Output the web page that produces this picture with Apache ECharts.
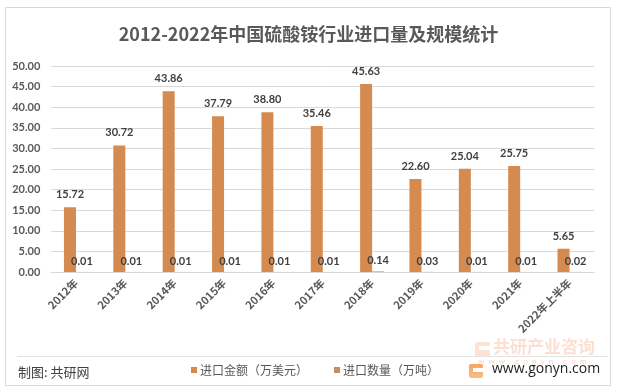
<!DOCTYPE html>
<html><head><meta charset="utf-8">
<script src="https://cdn.jsdelivr.net/npm/echarts@6/dist/echarts.min.js"></script>
<style>html,body{margin:0;padding:0;background:#fff}#c{width:617px;height:391px}</style>
</head><body><div id="c"></div>
<script>
var categories = ['2012年','2013年','2014年','2015年','2016年','2017年','2018年','2019年','2020年','2021年','2022年上半年'];
var amountValues = [15.72, 30.72, 43.86, 37.79, 38.80, 35.46, 45.63, 22.60, 25.04, 25.75, 5.65];
var volumeValues = [0.01, 0.01, 0.01, 0.01, 0.01, 0.01, 0.14, 0.03, 0.01, 0.01, 0.02];
var seriesNames = ['进口金额（万美元）', '进口数量（万吨）'];
var titleText = '2012-2022年中国硫酸铵行业进口量及规模统计';

var numFont = 'Lato, "Noto Sans CJK SC", sans-serif';
var cjkFont = '"Noto Sans CJK SC", sans-serif';
var chart = echarts.init(document.getElementById('c'), null, {renderer: 'canvas'});
var fmt = function (p) { return p.value.toFixed(2); };
chart.setOption({
  animation: false,
  backgroundColor: '#fff',
  title: {
    text: titleText, left: 'center', top: 20,
    textStyle: {fontFamily: cjkFont, fontSize: 18, fontWeight: 'bold', color: '#595959'}
  },
  legend: {
    left: 186, top: 359, itemWidth: 6, itemHeight: 6, itemGap: 26, icon: 'rect',
    textStyle: {fontFamily: cjkFont, fontSize: 12, color: '#595959', padding: [0,0,0,-2]},
    data: seriesNames
  },
  grid: {left: 51.3, right: 22.8, top: 66, bottom: 119},
  xAxis: {
    type: 'category', data: categories,
    axisLine: {lineStyle: {color: '#d9d9d9'}},
    axisTick: {show: false},
    axisLabel: {rotate: 45, interval: 0, margin: 9, fontFamily: cjkFont, fontSize: 11, fontWeight: 'bold', color: '#595959'}
  },
  yAxis: {
    type: 'value', min: 0, max: 50, interval: 5,
    axisLine: {show: false}, axisTick: {show: false},
    splitLine: {lineStyle: {color: '#d9d9d9'}},
    axisLabel: {margin: 11, fontFamily: numFont, fontSize: 11, fontWeight: 'bold', color: '#595959', formatter: function (v) { return v.toFixed(2); }}
  },
  series: [
    {
      name: seriesNames[0], type: 'bar', data: amountValues, barWidth: 12, barGap: '0%',
      itemStyle: {color: '#D58B4F'},
      label: {show: true, position: 'top', distance: 7, formatter: fmt, fontFamily: numFont, fontSize: 11, fontWeight: 'bold', color: '#404040'}
    },
    {
      name: seriesNames[1], type: 'bar', data: volumeValues, barWidth: 12, barGap: '0%',
      itemStyle: {color: '#BF9069'},
      label: {show: true, position: 'top', distance: 5, formatter: fmt, fontFamily: numFont, fontSize: 11, fontWeight: 'bold', color: '#404040'}
    }
  ],
  graphic: [
    {type: 'rect', z: -1, shape: {x: 5.5, y: 7.5, width: 605, height: 378}, style: {fill: 'none', stroke: '#d9d9d9', lineWidth: 1}},
    {type: 'line', shape: {x1: 17, y1: 356.5, x2: 608, y2: 356.5}, style: {stroke: '#e3e3e3', lineWidth: 1}},
    {type: 'text', left: 18, top: 366, style: {text: '制图: 共研网', fontFamily: cjkFont, fontSize: 13, fill: '#404040'}},
    {type: 'rect', z: -1, shape: {x: 475, y: 342, width: 15, height: 15, r: 2}, style: {fill: '#fce3d6'}},
    {type: 'rect', z: -1, shape: {x: 479, y: 346, width: 11, height: 4}, style: {fill: '#fff'}},
    {type: 'text', left: 493, top: 338, z: -1, style: {text: '共研产业咨询', fontFamily: cjkFont, fontSize: 17, fontWeight: 'bold', fill: '#fbe0d2'}},
    {type: 'text', left: 478, top: 357, z: -1, style: {text: 'w  w  w  .  g  o  n  y  n  .  c  o  m', fontFamily: numFont, fontSize: 8, fill: '#f8d6c4'}},
    {type: 'rect', shape: {x: 469, y: 364, width: 14, height: 14, r: 2}, style: {fill: new echarts.graphic.LinearGradient(0,0,0,1,[{offset:0,color:'#f7a35c'},{offset:1,color:'#f5c08a'}])}},
    {type: 'rect', shape: {x: 473, y: 368, width: 10, height: 4}, style: {fill: '#fff'}},
    {type: 'text', left: 492, top: 362, style: {text: 'www.gonyn.com', fontFamily: '"Open Sans", sans-serif', fontSize: 14, fill: '#222'}}
  ]
});
</script></body></html>
